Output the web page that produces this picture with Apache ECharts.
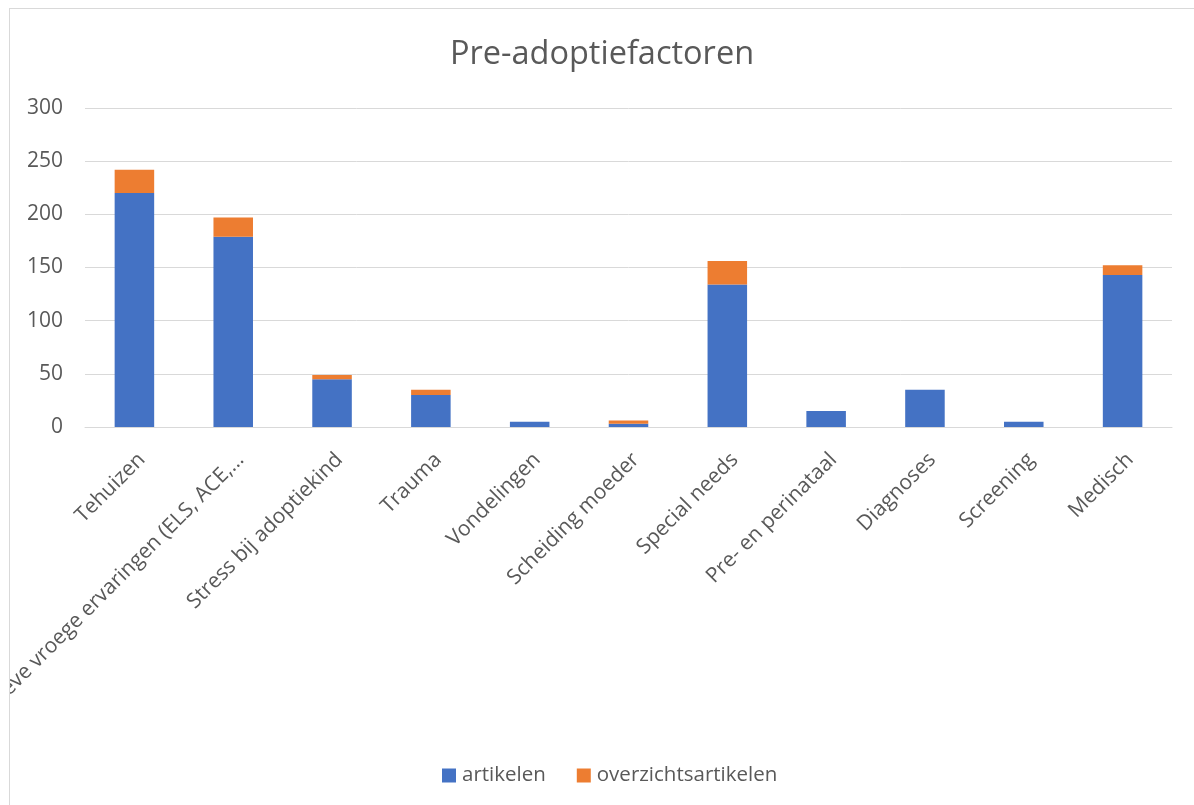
<!DOCTYPE html>
<html><head><meta charset="utf-8">
<script src="https://cdn.jsdelivr.net/npm/echarts@6/dist/echarts.min.js"></script>
<style>
html,body{margin:0;padding:0;background:#fff;width:1194px;height:805px;overflow:hidden;}
#c{position:absolute;left:9px;top:8px;width:1185px;height:797px;border-left:1px solid #d9d9d9;border-top:1px solid #d9d9d9;box-sizing:border-box;}
</style></head>
<body><div id="c"></div>
<script>
const categories = ["Tehuizen","Negatieve vroege ervaringen (ELS, ACE,…","Stress bij adoptiekind","Trauma","Vondelingen","Scheiding moeder","Special needs","Pre- en perinataal","Diagnoses","Screening","Medisch"];
const artikelen = [220,179,45,30,5,3,134,15,35,5,143];
const overzichtsartikelen = [22,18,4,5,0,3,22,0,0,0,9];
const yTicks = {min:0,max:300,interval:50};

const chart = echarts.init(document.getElementById('c'));
const font = "'Open Sans', sans-serif";
chart.setOption({
  animation:false,
  textStyle:{fontFamily:font},
  title:{text:'Pre-adoptiefactoren',left:'center',top:24,textStyle:{fontFamily:font,fontSize:32.5,fontWeight:'normal',color:'#595959'}},
  legend:{top:751,left:427,itemWidth:14,itemHeight:14,itemGap:31,icon:'rect',textStyle:{fontFamily:font,fontSize:20.5,color:'#595959',padding:[0,0,0,1]},data:['artikelen','overzichtsartikelen']},
  grid:{left:75,right:22,top:99,bottom:378,containLabel:false,outerBoundsMode:'none'},
  xAxis:{type:'category',data:categories,axisTick:{show:false},axisLine:{lineStyle:{color:'#d9d9d9'}},
    axisLabel:{rotate:45,interval:0,fontFamily:font,fontSize:21,color:'#595959',margin:22,verticalAlign:'top'}},
  yAxis:{type:'value',min:yTicks.min,max:yTicks.max,interval:yTicks.interval,axisLine:{show:false},axisTick:{show:false},
    splitLine:{lineStyle:{color:'#d9d9d9',width:1}},axisLabel:{fontFamily:font,fontSize:21,color:'#595959',margin:22}},
  series:[
    {name:'artikelen',type:'bar',stack:'a',data:artikelen,barWidth:'40%',itemStyle:{color:'#4472C4'}},
    {name:'overzichtsartikelen',type:'bar',stack:'a',data:overzichtsartikelen,barWidth:'40%',itemStyle:{color:'#ED7D31'}}
  ]
});
</script></body></html>
